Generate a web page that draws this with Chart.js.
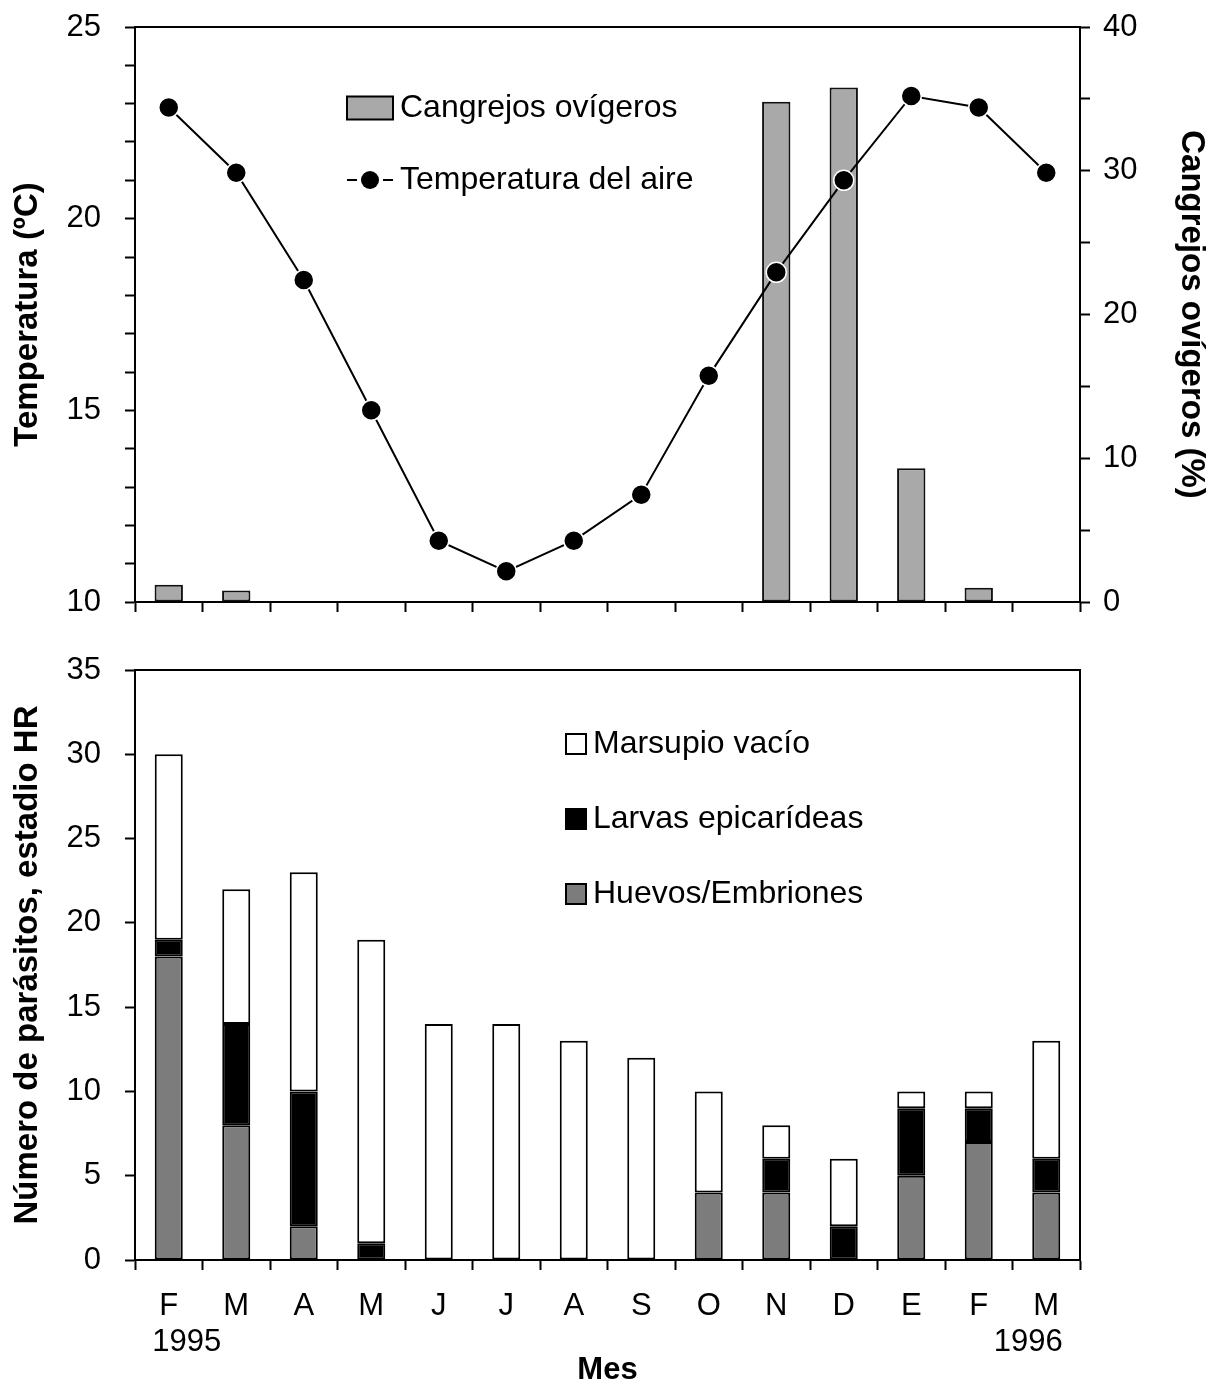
<!DOCTYPE html>
<html>
<head>
<meta charset="utf-8">
<script src="https://cdn.jsdelivr.net/npm/chart.js@4.4.1/dist/chart.umd.min.js"></script>
<style>
  body { margin: 0; background: #fff; }
  canvas { display: block; }
</style>
</head>
<body>
<canvas id="chartTop" width="1221" height="640"></canvas>
<canvas id="chartBottom" width="1221" height="749"></canvas>
<script>
const meses = ['F', 'M', 'A', 'M', 'J', 'J', 'A', 'S', 'O', 'N', 'D', 'E', 'F', 'M'];
const anios = { 0: '1995', 13: '1996' };

// panel superior
const temperaturaAire = [22.9, 21.2, 18.4, 15.0, 11.6, 10.8, 11.6, 12.8, 15.9, 18.6, 21.0, 23.2, 22.9, 21.2];
const cangrejosOvigeros = [1.2, 0.8, 0, 0, 0, 0, 0, 0, 0, 34.8, 35.8, 9.3, 1.0, 0];

// panel inferior (estadio HR)
const huevosEmbriones = [18, 8, 2, 0, 0, 0, 0, 0, 4, 4, 0, 5, 7, 4];
const larvasEpicarideas = [1, 6, 8, 1, 0, 0, 0, 0, 0, 2, 2, 4, 2, 2];
const marsupioVacio = [11, 8, 13, 18, 14, 14, 13, 12, 6, 2, 4, 1, 1, 7];

const FONT = '"Liberation Sans", Arial, sans-serif';
const tickFont = { family: FONT, size: 31 };
const titleFont = { family: FONT, size: 33, weight: 'bold' };

Chart.defaults.color = '#000';
Chart.defaults.font.family = FONT;

// marco completo alrededor del área de trazado
const framePlugin = {
  id: 'frame',
  afterDatasetsDraw(chart) {
    const { ctx, chartArea: a } = chart;
    ctx.save();
    ctx.strokeStyle = '#000';
    ctx.lineWidth = 2;
    ctx.strokeRect(a.left, a.top, a.right - a.left, a.bottom - a.top);
    ctx.restore();
  }
};

// leyenda dibujada dentro del área, como en la figura original
function legendPlugin(items) {
  return {
    id: 'insideLegend',
    afterDraw(chart) {
      const { ctx, chartArea: a } = chart;
      ctx.save();
      ctx.font = '32px ' + FONT;
      ctx.textBaseline = 'middle';
      items.forEach(it => {
        const x = a.left + it.dx, y = a.top + it.dy;
        ctx.lineWidth = 2;
        ctx.strokeStyle = '#000';
        if (it.kind === 'box') {
          ctx.fillStyle = it.color;
          ctx.fillRect(x, y - it.h / 2, it.w, it.h);
          ctx.strokeRect(x, y - it.h / 2, it.w, it.h);
        } else {
          ctx.beginPath();
          ctx.moveTo(x, y); ctx.lineTo(x + 10, y);
          ctx.moveTo(x + 36, y); ctx.lineTo(x + 46, y);
          ctx.stroke();
          ctx.fillStyle = '#000';
          ctx.beginPath();
          ctx.arc(x + 23, y, 9, 0, Math.PI * 2);
          ctx.fill();
        }
        ctx.fillStyle = '#000';
        ctx.fillText(it.text, a.left + it.tx, y);
      });
      ctx.restore();
    }
  };
}

// años bajo el primer y último mes
const yearPlugin = {
  id: 'years',
  afterDraw(chart) {
    const { ctx, chartArea: a } = chart;
    const xs = chart.scales.x;
    ctx.save();
    ctx.font = '31px ' + FONT;
    ctx.textBaseline = 'middle';
    ctx.textAlign = 'center';
    ctx.fillStyle = '#000';
    Object.keys(anios).forEach(k => {
      const i = Number(k);
      const shift = i === 0 ? 18 : -18;
      ctx.fillText(anios[k], xs.getPixelForValue(i) + shift, a.bottom + 82);
    });
    ctx.restore();
  }
};

const axisGrid = { drawOnChartArea: false, color: '#000', tickColor: '#000', tickWidth: 2, tickLength: 10 };
const axisBorder = { color: '#000', width: 2 };

// ancho fijo de eje vertical, sin relleno extra arriba/abajo
const fixWidth = w => s => { s.width = w; s.paddingTop = 0; s.paddingBottom = 0; };

new Chart(document.getElementById('chartTop'), {
  data: {
    labels: meses,
    datasets: [
      {
        type: 'line', label: 'Temperatura del aire', data: temperaturaAire, yAxisID: 'y', order: 0,
        borderColor: '#000', borderWidth: 2, tension: 0,
        pointRadius: 10, pointBackgroundColor: '#000', pointBorderColor: '#fff', pointBorderWidth: 1.5
      },
      {
        type: 'bar', label: 'Cangrejos ovígeros', data: cangrejosOvigeros, yAxisID: 'y1', order: 1,
        backgroundColor: '#a9a9a9', borderColor: '#111', borderWidth: 2, borderSkipped: false,
        barPercentage: 0.42, categoryPercentage: 1
      }
    ]
  },
  options: {
    responsive: false,
    animation: false,
    layout: { padding: { top: 27, left: 0, right: 0, bottom: 0 } },
    plugins: { legend: { display: false }, tooltip: { enabled: false } },
    scales: {
      x: {
        grid: { ...axisGrid, offset: true },
        border: axisBorder,
        ticks: { display: false },
        afterFit: s => { s.height = 38; }
      },
      y: {
        position: 'left', min: 10, max: 25,
        grid: axisGrid, border: axisBorder,
        ticks: { stepSize: 1, autoSkip: false, padding: 24, font: tickFont,
          callback: v => (v % 5 === 0 ? v : '') },
        title: { display: true, text: 'Temperatura (ºC)', font: titleFont, padding: { top: 8, bottom: 0 } },
        afterFit: fixWidth(135)
      },
      y1: {
        position: 'right', min: 0, max: 40,
        grid: axisGrid, border: axisBorder,
        ticks: { stepSize: 5, autoSkip: false, padding: 13, font: tickFont,
          callback: v => (v % 10 === 0 ? v : '') },
        title: { display: true, text: 'Cangrejos ovígeros (%)', font: titleFont, padding: { top: 10, bottom: 0 } },
        afterFit: fixWidth(141)
      }
    }
  },
  plugins: [framePlugin, legendPlugin([
    { kind: 'box', color: '#a9a9a9', w: 46, h: 23, dx: 212, dy: 81, tx: 265, text: 'Cangrejos ovígeros' },
    { kind: 'line', dx: 212, dy: 153, tx: 265, text: 'Temperatura del aire' }
  ])]
});

const barStyle = { borderColor: '#000', borderWidth: 2, borderSkipped: false, barPercentage: 0.415, categoryPercentage: 1 };

new Chart(document.getElementById('chartBottom'), {
  type: 'bar',
  data: {
    labels: meses,
    datasets: [
      { label: 'Huevos/Embriones', data: huevosEmbriones, backgroundColor: '#7c7c7c', ...barStyle },
      { label: 'Larvas epicarídeas', data: larvasEpicarideas, backgroundColor: '#000', ...barStyle },
      { label: 'Marsupio vacío', data: marsupioVacio, backgroundColor: '#fff', ...barStyle }
    ]
  },
  options: {
    responsive: false,
    animation: false,
    layout: { padding: { top: 30, left: 0, right: 141, bottom: 0 } },
    plugins: { legend: { display: false }, tooltip: { enabled: false } },
    scales: {
      x: {
        stacked: true,
        grid: { ...axisGrid, offset: true },
        border: axisBorder,
        ticks: { font: tickFont, padding: 18, maxRotation: 0, autoSkip: false },
        title: { display: true, text: 'Mes', font: { family: FONT, size: 31, weight: 'bold' }, padding: 0 },
        afterFit: s => { s.height = 129; }
      },
      y: {
        stacked: true, min: 0, max: 35,
        grid: axisGrid, border: axisBorder,
        ticks: { stepSize: 5, autoSkip: false, padding: 24, font: tickFont },
        title: { display: true, text: 'Número de parásitos, estadio HR', font: titleFont, padding: { top: 8, bottom: 0 } },
        afterFit: fixWidth(135)
      }
    }
  },
  plugins: [framePlugin, yearPlugin, legendPlugin([
    { kind: 'box', color: '#fff', w: 20, h: 20, dx: 431, dy: 74, tx: 458, text: 'Marsupio vacío' },
    { kind: 'box', color: '#000', w: 20, h: 20, dx: 431, dy: 149, tx: 458, text: 'Larvas epicarídeas' },
    { kind: 'box', color: '#7c7c7c', w: 20, h: 20, dx: 431, dy: 224, tx: 458, text: 'Huevos/Embriones' }
  ])]
});
</script>
</body>
</html>
